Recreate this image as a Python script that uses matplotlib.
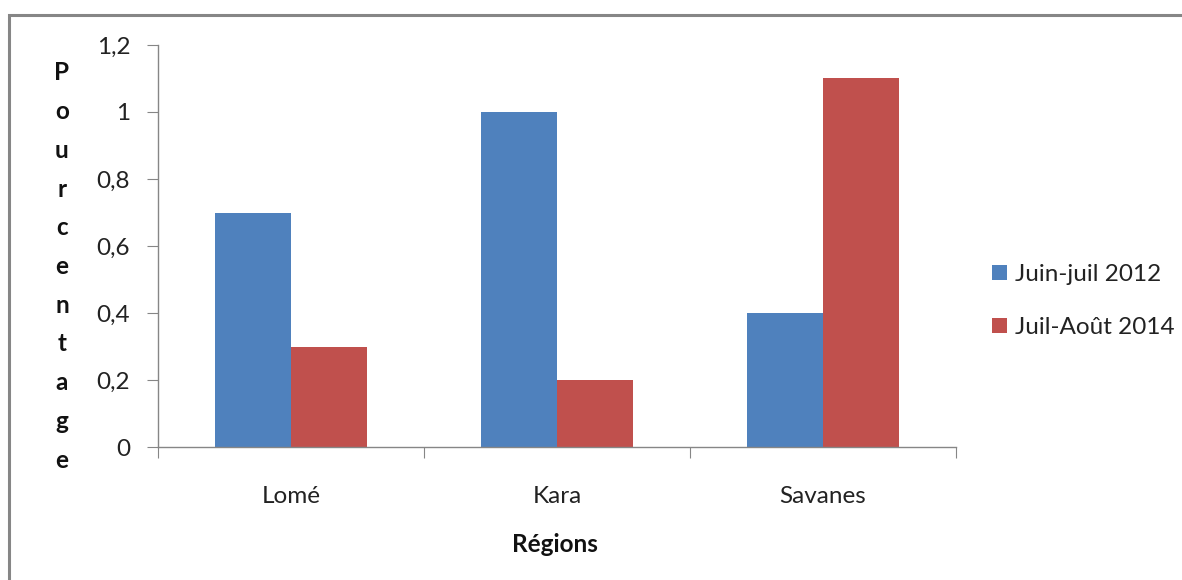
import matplotlib
matplotlib.use("Agg")
import matplotlib.pyplot as plt
import numpy as np
from matplotlib.patches import Rectangle

plt.rcParams['font.family'] = ['Lato', 'DejaVu Sans']

categories = ["Lomé", "Kara", "Savanes"]
series_names = ["Juin-juil 2012", "Juil-Août 2014"]
values_2012 = [0.7, 1.0, 0.4]
values_2014 = [0.3, 0.2, 1.1]
yticks = [0, 0.2, 0.4, 0.6, 0.8, 1.0, 1.2]
ytick_labels = ["0", "0,2", "0,4", "0,6", "0,8", "1", "1,2"]
colors = ["#4F81BD", "#C0504D"]
ylabel = "Pourcentage"
xlabel = "Régions"

W, H = 1182, 580
fig = plt.figure(figsize=(W / 100, H / 100), dpi=100)
ax = fig.add_axes([158 / W, 1 - 447 / H, (956 - 158) / W, (447 - 45) / H])

x = np.arange(len(categories))
bw = 0.286
ax.bar(x - bw / 2, values_2012, bw, color=colors[0], label=series_names[0])
ax.bar(x + bw / 2, values_2014, bw, color=colors[1], label=series_names[1])

ax.set_xlim(-0.5, len(categories) - 0.5)
ax.set_ylim(0, 1.2)
ax.set_yticks(yticks)
ax.set_yticklabels(ytick_labels)
ax.set_xticks(np.arange(-0.5, len(categories), 1.0))
ax.set_xticklabels([])
ax.set_xticks(x, minor=True)
ax.set_xticklabels(categories, minor=True)

gray = "#868686"
fs = 17.5
for s in ["top", "right"]:
    ax.spines[s].set_visible(False)
for s in ["left", "bottom"]:
    ax.spines[s].set_color(gray)
    ax.spines[s].set_linewidth(1.0)
ax.tick_params(axis="y", which="major", direction="out", length=8, color=gray,
               labelsize=fs, labelcolor="#222222", pad=12)
ax.tick_params(axis="x", which="major", direction="out", length=8, color=gray)
ax.tick_params(axis="x", which="minor", length=0, labelsize=fs,
               labelcolor="#222222", pad=28)

# stacked y label
letters = list(ylabel)
y0, y1 = 73, 460
for i, ch in enumerate(letters):
    yy = y0 + (y1 - y0) * i / (len(letters) - 1)
    fig.text(62 / W, 1 - yy / H, ch, ha="center", va="center",
             fontsize=fs, fontweight="bold", color="#111111")

fig.text(555 / W, 1 - 545 / H, xlabel, ha="center", va="center",
         fontsize=fs, fontweight="bold", color="#111111")

leg = fig.legend(loc="center left", bbox_to_anchor=(992 / W, 1 - 301 / H),
                 frameon=False, fontsize=fs, handlelength=0.6, handleheight=0.6,
                 handletextpad=0.35, labelspacing=1.3, borderaxespad=0,
                 borderpad=0)
for t in leg.get_texts():
    t.set_color("#222222")

# outer border (clipped on right and bottom)
fig.patches.append(Rectangle((9 / W, -0.1), 1.2, 1 - 15 / H + 0.1,
                             transform=fig.transFigure, fill=False,
                             edgecolor="#868686", linewidth=2.2))

fig.savefig("out.png", dpi=100)
